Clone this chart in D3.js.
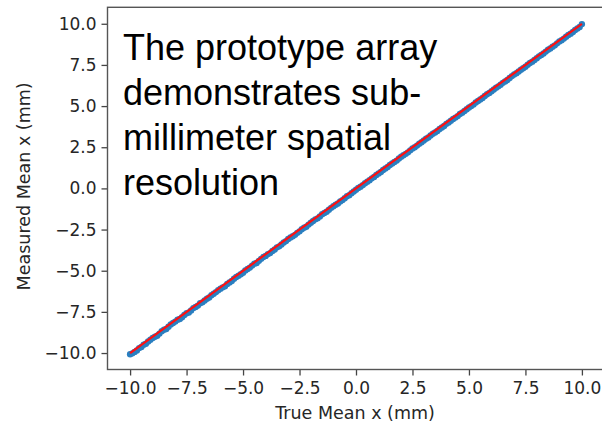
<!DOCTYPE html>
<html>
<head>
    <meta charset="UTF-8">
    <title>Measured vs True Mean x</title>
    <script src="https://d3js.org/d3.v7.min.js"></script>
    <style>
        body { margin: 0; background: #ffffff; }
        svg { display: block; }
        .tick text { font-family: "DejaVu Sans", sans-serif; font-size: 17px; fill: #262626; }
        .tick line { stroke: #444; stroke-width: 1.3; }
        .axis-label { font-family: "DejaVu Sans", sans-serif; font-size: 17.5px; fill: #262626; }
        .overlay { font-family: "Liberation Sans", Arial, sans-serif; font-size: 36px; fill: #000; }
    </style>
</head>
<body>
<svg id="chart"></svg>
<script>
// true positions (mm)
const trueX = [
    -10.0, -9.9, -9.8, -9.7, -9.6, -9.5, -9.4, -9.3, -9.2, -9.1,
    -9.0, -8.9, -8.8, -8.7, -8.6, -8.5, -8.4, -8.3, -8.2, -8.1,
    -8.0, -7.9, -7.8, -7.7, -7.6, -7.5, -7.4, -7.3, -7.2, -7.1,
    -7.0, -6.9, -6.8, -6.7, -6.6, -6.5, -6.4, -6.3, -6.2, -6.1,
    -6.0, -5.9, -5.8, -5.7, -5.6, -5.5, -5.4, -5.3, -5.2, -5.1,
    -5.0, -4.9, -4.8, -4.7, -4.6, -4.5, -4.4, -4.3, -4.2, -4.1,
    -4.0, -3.9, -3.8, -3.7, -3.6, -3.5, -3.4, -3.3, -3.2, -3.1,
    -3.0, -2.9, -2.8, -2.7, -2.6, -2.5, -2.4, -2.3, -2.2, -2.1,
    -2.0, -1.9, -1.8, -1.7, -1.6, -1.5, -1.4, -1.3, -1.2, -1.1,
    -1.0, -0.9, -0.8, -0.7, -0.6, -0.5, -0.4, -0.3, -0.2, -0.1,
    0.0, 0.1, 0.2, 0.3, 0.4, 0.5, 0.6, 0.7, 0.8, 0.9,
    1.0, 1.1, 1.2, 1.3, 1.4, 1.5, 1.6, 1.7, 1.8, 1.9,
    2.0, 2.1, 2.2, 2.3, 2.4, 2.5, 2.6, 2.7, 2.8, 2.9,
    3.0, 3.1, 3.2, 3.3, 3.4, 3.5, 3.6, 3.7, 3.8, 3.9,
    4.0, 4.1, 4.2, 4.3, 4.4, 4.5, 4.6, 4.7, 4.8, 4.9,
    5.0, 5.1, 5.2, 5.3, 5.4, 5.5, 5.6, 5.7, 5.8, 5.9,
    6.0, 6.1, 6.2, 6.3, 6.4, 6.5, 6.6, 6.7, 6.8, 6.9,
    7.0, 7.1, 7.2, 7.3, 7.4, 7.5, 7.6, 7.7, 7.8, 7.9,
    8.0, 8.1, 8.2, 8.3, 8.4, 8.5, 8.6, 8.7, 8.8, 8.9,
    9.0, 9.1, 9.2, 9.3, 9.4, 9.5, 9.6, 9.7, 9.8, 9.9,
    10.0
];
// measured mean positions (mm)
const measuredX = [
    -10.07, -10.02, -9.93, -9.84, -9.70, -9.63, -9.50, -9.44, -9.30, -9.19,
    -9.08, -9.01, -8.95, -8.82, -8.67, -8.59, -8.54, -8.40, -8.26, -8.18,
    -8.09, -7.98, -7.93, -7.83, -7.69, -7.58, -7.54, -7.41, -7.27, -7.20,
    -7.12, -6.97, -6.92, -6.81, -6.70, -6.63, -6.49, -6.40, -6.30, -6.19,
    -6.09, -6.01, -5.95, -5.80, -5.71, -5.62, -5.49, -5.38, -5.31, -5.21,
    -5.12, -4.98, -4.90, -4.81, -4.69, -4.57, -4.53, -4.40, -4.28, -4.17,
    -4.10, -3.99, -3.93, -3.80, -3.71, -3.58, -3.52, -3.41, -3.29, -3.20,
    -3.07, -2.98, -2.91, -2.82, -2.70, -2.61, -2.48, -2.39, -2.33, -2.20,
    -2.09, -1.98, -1.88, -1.82, -1.70, -1.57, -1.49, -1.42, -1.30, -1.18,
    -1.08, -0.99, -0.92, -0.79, -0.71, -0.60, -0.48, -0.41, -0.29, -0.19,
    -0.08, 0.03, 0.10, 0.20, 0.31, 0.40, 0.50, 0.61, 0.70, 0.82,
    0.91, 1.00, 1.12, 1.21, 1.30, 1.42, 1.51, 1.60, 1.69, 1.82,
    1.92, 2.01, 2.10, 2.19, 2.31, 2.42, 2.50, 2.60, 2.71, 2.80,
    2.91, 3.02, 3.09, 3.21, 3.32, 3.40, 3.49, 3.61, 3.70, 3.79,
    3.92, 4.00, 4.11, 4.22, 4.30, 4.39, 4.52, 4.60, 4.70, 4.81,
    4.91, 5.00, 5.09, 5.22, 5.31, 5.40, 5.49, 5.61, 5.72, 5.80,
    5.90, 6.01, 6.12, 6.20, 6.30, 6.41, 6.50, 6.58, 6.71, 6.82,
    6.92, 7.00, 7.10, 7.21, 7.30, 7.39, 7.51, 7.62, 7.70, 7.80,
    7.91, 8.02, 8.10, 8.19, 8.31, 8.42, 8.50, 8.60, 8.69, 8.81,
    8.92, 9.00, 9.10, 9.21, 9.32, 9.40, 9.50, 9.62, 9.71, 9.80,
    9.98
];
// ideal response line
const idealX = [-10, 10];
const idealY = [-10, 10];
const tickValues = [-10, -7.5, -5, -2.5, 0, 2.5, 5, 7.5, 10];
const overlayLines = ["The prototype array", "demonstrates sub-", "millimeter spatial", "resolution"];

const W = 602, H = 429;
const svg = d3.select('#chart').attr('width', W).attr('height', H);

const x = d3.scaleLinear().domain([-11, 11]).range([107.5, 604.5]);
const y = d3.scaleLinear().domain([-11, 11]).range([369.5, 7.3]);
const fmt = d3.format('.1f');

// axes
svg.append('g')
    .attr('transform', `translate(0,${y(-11)})`)
    .call(d3.axisBottom(x).tickValues(tickValues).tickFormat(fmt).tickSize(6).tickPadding(6))
    .call(g => g.select('.domain').remove());

svg.append('g')
    .attr('transform', `translate(${x(-11)},0)`)
    .call(d3.axisLeft(y).tickValues(tickValues).tickFormat(fmt).tickSize(6).tickPadding(5))
    .call(g => g.select('.domain').remove());

// scatter
const pts = trueX.map((v, i) => ({ t: v, m: measuredX[i] }));
svg.append('g').selectAll('circle')
    .data(pts)
    .enter().append('circle')
    .attr('cx', d => x(d.t))
    .attr('cy', d => y(d.m))
    .attr('r', 3.2)
    .attr('fill', '#2a7fc0');

// ideal line
svg.append('path')
    .datum(idealX.map((v, i) => [v, idealY[i]]))
    .attr('fill', 'none')
    .attr('stroke', '#ff1010')
    .attr('stroke-width', 2.2)
    .attr('d', d3.line().x(d => x(d[0])).y(d => y(d[1])));

// frame
svg.append('rect')
    .attr('x', x(-11)).attr('y', y(11))
    .attr('width', x(11) - x(-11)).attr('height', y(-11) - y(11))
    .attr('fill', 'none').attr('stroke', '#555').attr('stroke-width', 1.4);

// axis labels
svg.append('text')
    .attr('class', 'axis-label')
    .attr('text-anchor', 'middle')
    .attr('x', (x(-11) + x(11)) / 2 - 1)
    .attr('y', 419)
    .text('True Mean x (mm)');

svg.append('text')
    .attr('class', 'axis-label')
    .attr('text-anchor', 'middle')
    .attr('transform', `translate(30,${(y(-11) + y(11)) / 2 - 2}) rotate(-90)`)
    .text('Measured Mean x (mm)');

// overlay text
const ov = svg.append('text').attr('class', 'overlay');
overlayLines.forEach((s, i) => {
    ov.append('tspan').attr('x', 123).attr('y', 60 + i * 45).text(s);
});
</script>
</body>
</html>
